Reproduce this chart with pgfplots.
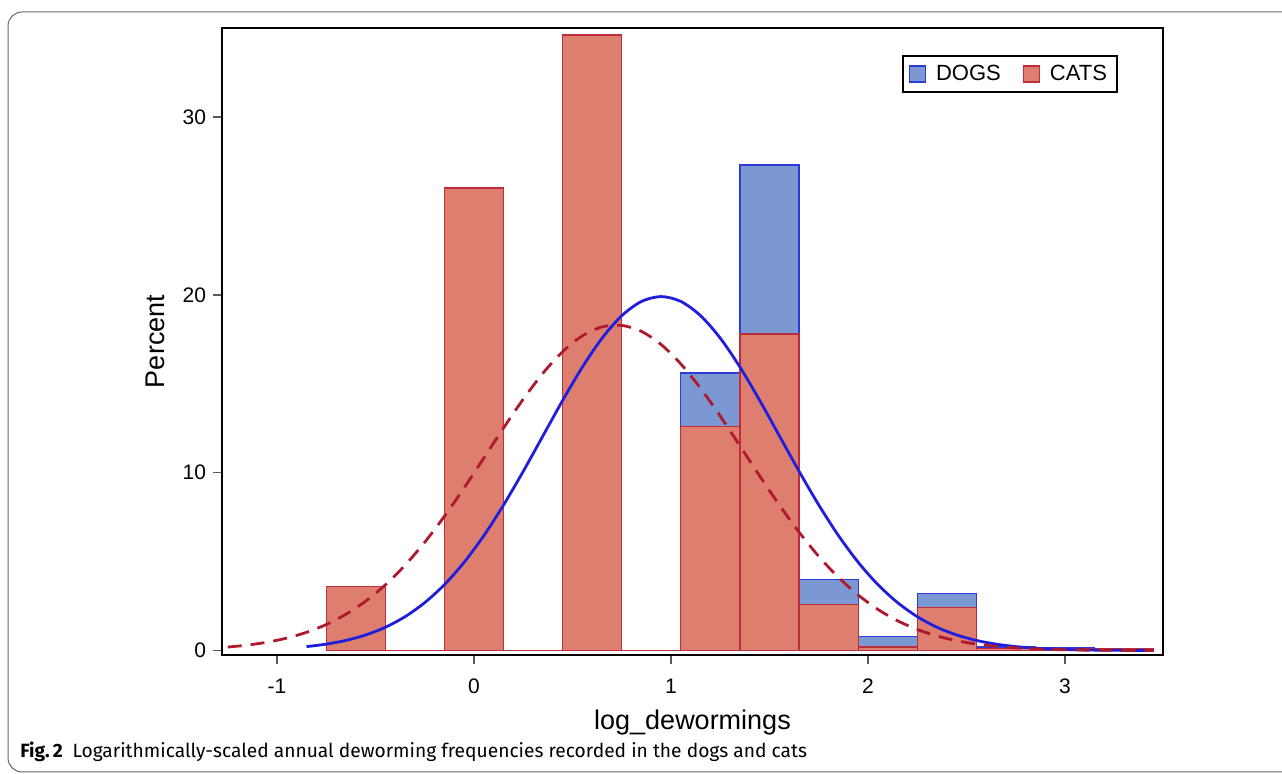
\documentclass[border=0pt]{standalone}
\usepackage{pgfplots}
\pgfplotsset{compat=1.18}
\usepackage{fontspec}
\setmainfont{Liberation Sans}
\newfontfamily\capfont{Fira Sans}

\definecolor{dogfill}{RGB}{123,152,210}
\definecolor{dogedge}{RGB}{45,60,215}
\definecolor{catfill}{RGB}{222,126,110}
\definecolor{catedge}{RGB}{190,45,58}
\definecolor{dogline}{RGB}{30,30,220}
\definecolor{catline}{RGB}{175,25,45}

% histogram percentages, bin width 0.3
\pgfplotstableread{
x     pct
-0.6  1.5
-0.3  0
0.0   15.6
0.3   0
0.6   32
0.9   0
1.2   15.6
1.5   27.3
1.8   4.0
2.1   0.8
2.4   3.2
2.7   0.2
3.0   0.15
3.3   0.05
}\dogs
\pgfplotstableread{
x     pct
-0.6  3.6
-0.3  0
0.0   26.0
0.3   0
0.6   34.6
0.9   0
1.2   12.6
1.5   17.8
1.8   2.6
2.1   0.2
2.4   2.4
2.7   0.12
3.0   0.12
3.3   0.12
}\cats

\begin{document}
\begin{tikzpicture}
\useasboundingbox (0,0) rectangle (641pt,387pt);
\begin{scope}
\clip (0,0) rectangle (641pt,387pt);
\draw[gray!80!black, line width=0.5pt, rounded corners=7pt] (700pt,381pt) -- (4pt,381pt) -- (4pt,1pt) -- (700pt,1pt);
\end{scope}
\begin{axis}[
  at={(111pt,59.5pt)}, anchor=south west,
  scale only axis, width=470.5pt, height=313.5pt,
  xmin=-1.279, xmax=3.497, ymin=-0.25, ymax=35,
  xtick={-1,0,1,2,3}, ytick={0,10,20,30},
  tick align=outside, major tick length=4.5pt,
  every tick/.style={gray!70!black, line width=0.8pt},
  axis line style={line width=0.8pt},
  xtick pos=bottom, ytick pos=left,
  tick label style={font=\fontsize{10.5}{12}\selectfont},
  xticklabel style={yshift=-4pt},
  /pgf/number format/assume math mode=true,
  xlabel={log\_dewormings}, ylabel={Percent},
  label style={font=\fontsize{13.5}{16}\selectfont},
  xlabel style={yshift=-1pt},
  ylabel style={yshift=2pt},
  legend columns=2,
  legend style={at={(0.952,0.957)}, anchor=north east, draw=black, line width=0.8pt,
    font=\fontsize{11}{12}\selectfont, inner xsep=3pt, inner ysep=2.5pt,
    /tikz/every even column/.style={column sep=9pt}},
  legend image code/.code={\draw[#1, line width=0.6pt] (0pt,-4pt) rectangle (8pt,4pt);
    \path (11pt,0pt);},
]
\addplot[ybar, bar width=0.3, bar shift=0pt, fill=dogfill, draw=dogedge, line width=0.6pt] table[x=x,y=pct] {\dogs};
\addlegendentry{DOGS}
\addplot[ybar, bar width=0.3, bar shift=0pt, fill=catfill, draw=catedge, line width=0.6pt] table[x=x,y=pct] {\cats};
\addlegendentry{CATS}
% fitted normal curves
\addplot[forget plot, sharp plot, smooth, dogline, line width=1.4pt] coordinates {
(-0.85,0.221) (-0.75,0.359) (-0.65,0.569) (-0.55,0.874) (-0.45,1.307) (-0.35,1.903)
(-0.25,2.693) (-0.15,3.706) (-0.05,4.962) (0.05,6.461) (0.15,8.181) (0.25,10.076)
(0.35,12.070) (0.45,14.062) (0.55,15.935) (0.65,17.562) (0.75,18.825) (0.85,19.626)
(0.95,19.9) (1.05,19.626) (1.15,18.825) (1.25,17.562) (1.35,15.935) (1.45,14.062)
(1.55,12.070) (1.65,10.076) (1.75,8.181) (1.85,6.461) (1.95,4.962) (2.05,3.706)
(2.15,2.693) (2.25,1.903) (2.35,1.307) (2.45,0.874) (2.55,0.569) (2.65,0.359)
(2.75,0.221) (2.85,0.132) (2.95,0.077) (3.05,0.044) (3.15,0.024) (3.25,0.013)
(3.35,0.007) (3.45,0.003)
};
\addplot[forget plot, sharp plot, smooth, catline, line width=1.4pt, dash pattern=on 7pt off 4.5pt] coordinates {
(-1.25,0.195) (-1.15,0.306) (-1.05,0.469) (-0.95,0.701) (-0.85,1.024) (-0.75,1.462)
(-0.65,2.038) (-0.55,2.775) (-0.45,3.690) (-0.35,4.796) (-0.25,6.089) (-0.15,7.551)
(-0.05,9.147) (0.05,10.825) (0.15,12.515) (0.25,14.134) (0.35,15.593) (0.45,16.804)
(0.55,17.692) (0.65,18.196) (0.75,18.281) (0.85,17.942) (0.95,17.202) (1.05,16.111)
(1.15,14.741) (1.25,13.175) (1.35,11.504) (1.45,9.812) (1.55,8.176) (1.65,6.654)
(1.75,5.291) (1.85,4.110) (1.95,3.119) (2.05,2.312) (2.15,1.674) (2.25,1.184)
(2.35,0.818) (2.45,0.552) (2.55,0.364) (2.65,0.235) (2.75,0.148) (2.85,0.091)
(2.95,0.055) (3.05,0.032) (3.15,0.018) (3.25,0.010) (3.35,0.005) (3.45,0.003)
};
\end{axis}
\node[anchor=base west, inner sep=0pt, font=\capfont\fontsize{9.6}{11}\selectfont] at (10pt,8pt)
  {\textbf{Fig.\,2}\hspace{0.5em}Logarithmically-scaled annual deworming frequencies recorded in the dogs and cats};
\end{tikzpicture}
\end{document}
